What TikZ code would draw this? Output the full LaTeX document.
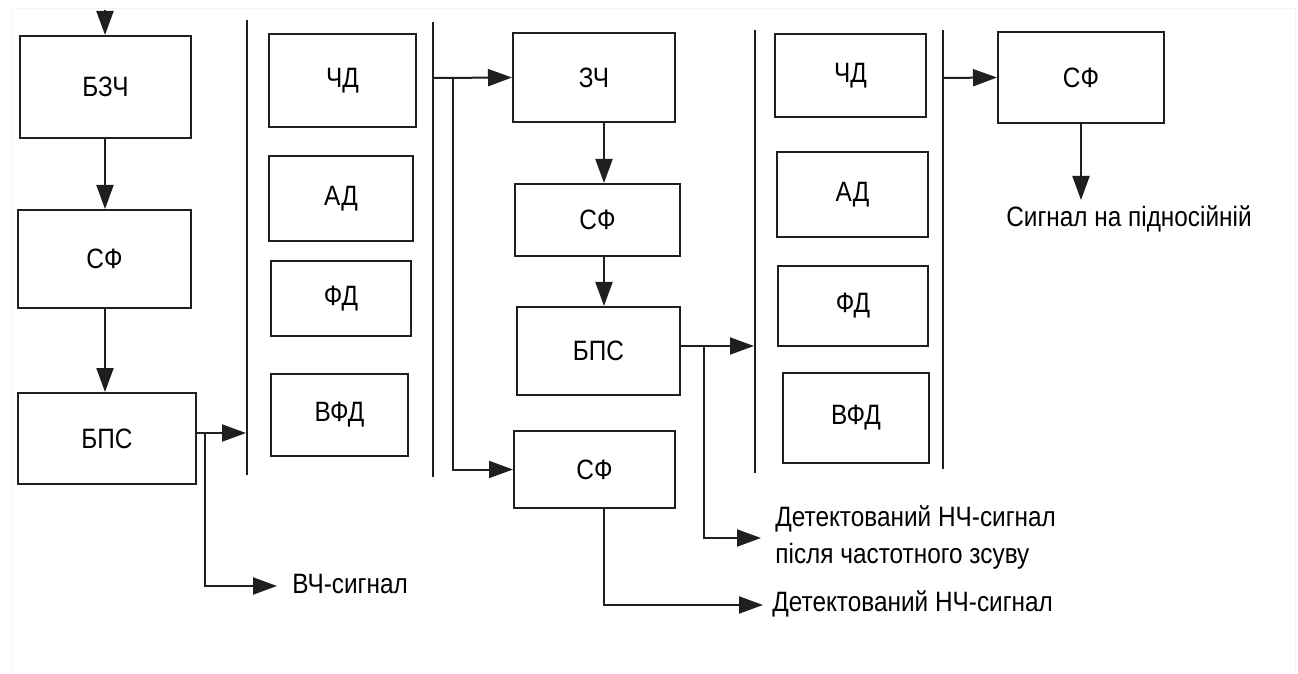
\documentclass[tikz,border=0pt]{standalone}
\usepackage{fontspec}
\setmainfont{Liberation Sans}[FakeStretch=0.87]
\usetikzlibrary{arrows.meta}
\begin{document}
\begin{tikzpicture}[x=0.5pt,y=-0.5pt,
  box/.style={draw=black!88, line width=1pt, inner sep=0pt, font=\fontsize{14}{16}\selectfont},
  lbl/.style={inner sep=0pt, anchor=west, font=\fontsize{14}{18.5}\selectfont, align=left},
  conn/.style={draw=black!88, line width=1pt},
  arr/.style={conn, -{Triangle[length=12pt,width=8.5pt]}},
  bar/.style={draw=black!88, line width=1pt}]
\useasboundingbox (0,0) rectangle (1298,674);
\draw[black!4, line width=0.5pt] (11,9) rectangle (1295,680);

% left column
\node[box, minimum width=85.5pt, minimum height=51pt] (bzch) at (105.5,87) {БЗЧ};
\node[box, minimum width=86.5pt, minimum height=49pt] (sf1) at (104.5,259) {СФ};
\node[box, minimum width=89pt, minimum height=45.5pt] (bps1) at (107,438.5) {БПС};
\coordinate (top) at (105,10);
\draw[arr] (top) -- (top |- bzch.north);
\draw[arr] (bzch.south -| top) -- (sf1.north -| top);
\draw[arr] (sf1.south -| top) -- (bps1.north -| top);

% first detector group
\coordinate (l1t) at (247,20); \coordinate (l1b) at (247,475);
\coordinate (l2t) at (433,22); \coordinate (l2b) at (433,477);
\draw[bar] (l1t) -- (l1b);
\draw[bar] (l2t) -- (l2b);
\node[box, minimum width=73.5pt, minimum height=46.5pt] (chd1) at (342.5,80.5) {ЧД};
\node[box, minimum width=72pt, minimum height=42.5pt] (ad1) at (341,198.5) {АД};
\node[box, minimum width=70pt, minimum height=37.5pt] (fd1) at (341,298.5) {ФД};
\node[box, minimum width=68.5pt, minimum height=41pt] (vfd1) at (339.5,415) {ВФД};

% БПС1 outputs
\coordinate (j1) at (205,433);
\coordinate (in1) at (246,433);
\coordinate (vch) at (277,586);
\draw[arr] ([yshift=2.75pt]bps1.east) -- (in1);
\draw[arr] (j1) |- (vch);
\node[lbl] (vchl) at (292,584) {ВЧ-сигнал};

% middle column
\node[box, minimum width=81pt, minimum height=44.5pt] (zch) at (594,77.5) {ЗЧ};
\node[box, minimum width=82.5pt, minimum height=36pt] (sf2) at (597.5,220) {СФ};
\node[box, minimum width=81.5pt, minimum height=44pt] (bps2) at (598.5,351) {БПС};
\node[box, minimum width=80.5pt, minimum height=38.5pt] (sf3) at (594.5,469.5) {СФ};
\coordinate (o2) at (433,78);
\coordinate (j2) at (453,78);
\coordinate (mx) at (604,0);
\draw[arr] (o2) -- (zch.west);
\draw[arr] (j2) |- (sf3.west);
\draw[arr] (zch.south -| mx) -- (sf2.north -| mx);
\draw[arr] (sf2.south -| mx) -- (bps2.north -| mx);

% second detector group
\coordinate (l3t) at (755,30); \coordinate (l3b) at (755,473);
\coordinate (l4t) at (943,30); \coordinate (l4b) at (943,469);
\draw[bar] (l3t) -- (l3b);
\draw[bar] (l4t) -- (l4b);
\node[box, minimum width=75.5pt, minimum height=41.5pt] (chd2) at (850.5,75.5) {ЧД};
\node[box, minimum width=75.5pt, minimum height=42.5pt] (ad2) at (852.5,194.5) {АД};
\node[box, minimum width=75pt, minimum height=40pt] (fd2) at (853,306) {ФД};
\node[box, minimum width=73pt, minimum height=45pt] (vfd2) at (856,418) {ВФД};

% БПС2 outputs
\coordinate (in3) at (754,346);
\coordinate (j3) at (704,346);
\coordinate (det1) at (761,538);
\draw[arr] ([yshift=2.5pt]bps2.east) -- (in3);
\draw[arr] (j3) |- (det1);
\node[lbl] (det1l) at (775,538) {Детектований НЧ-сигнал\\після частотного зсуву};

% СФ3 output
\coordinate (det2) at (763,605);
\draw[arr] (sf3.south -| mx) |- (det2);
\node[lbl] (det2l) at (772,604) {Детектований НЧ-сигнал};

% right
\node[box, minimum width=83pt, minimum height=45.5pt] (sf4) at (1081,77.5) {СФ};
\coordinate (o4) at (943,78);
\draw[arr] (o4) -- (sf4.west);
\coordinate (sub) at (1081,200);
\draw[arr] (sf4.south) -- (sub);
\node[inner sep=0pt, font=\fontsize{14}{16}\selectfont] (subl) at (1129,219) {Сигнал на підносійній};
\end{tikzpicture}
\end{document}
